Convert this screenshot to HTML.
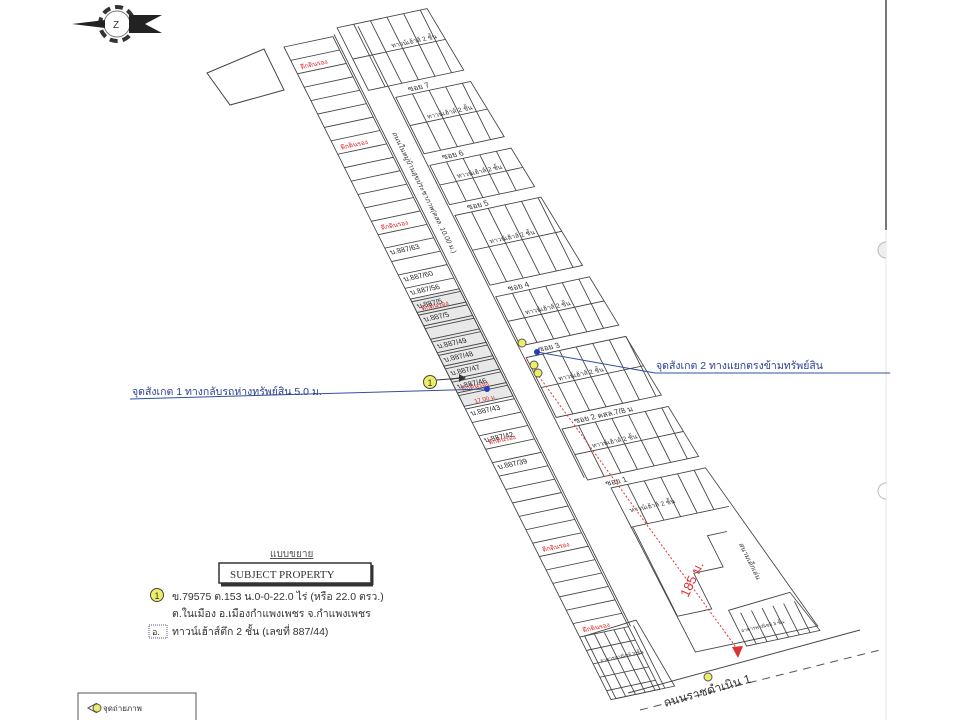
<!DOCTYPE html>
<html><head><meta charset="utf-8">
<style>
html,body{margin:0;padding:0;background:#fff;}
svg{display:block;font-family:"Liberation Sans","Noto Sans CJK SC",sans-serif;}
</style></head>
<body>
<svg id="s" width="960" height="720" viewBox="0 0 960 720" xmlns="http://www.w3.org/2000/svg">
<rect width="960" height="720" fill="#fff"/>
<!-- compass -->
<g transform="translate(117,24)">
<circle r="17" fill="none" stroke="#333" stroke-width="4" stroke-dasharray="8 5"/>
<circle r="13" fill="none" stroke="#777" stroke-width="1"/>
<polygon points="-45,0 -12,-4 -12,4" fill="#222"/>
<polygon points="12,-9 45,-9 28,0 45,9 12,9" fill="#222"/>
<text x="-4" y="4" font-size="10" fill="#333">Z</text>
</g>
<!-- right border -->
<line x1="886" y1="0" x2="886" y2="230" stroke="#777" stroke-width="2"/>
<line x1="886" y1="230" x2="886" y2="720" stroke="#e4e4e4" stroke-width="1"/>
<path d="M886,242 A8,8 0 0 0 886,258" fill="#eee" stroke="#bbb"/>
<path d="M886,483 A8,8 0 0 0 886,499" fill="#fff" stroke="#bbb"/>
<!-- top-left extra parcel -->
<polygon points="207,73 264,49 284,90 230,105" fill="none" stroke="#444" stroke-width="1"/>
<g id="map" transform="matrix(0.978,-0.208,0.448,0.894,284,47)" stroke="#444" stroke-width="0.9" fill="none"></g>
<!-- bottom road -->
<line x1="628" y1="693" x2="860" y2="630" stroke="#444" stroke-width="1"/>
<line x1="640" y1="710" x2="880" y2="650" stroke="#555" stroke-width="1" stroke-dasharray="8 6"/>
<text x="0" y="0" font-size="12" fill="#333" transform="translate(665,707) rotate(-16)">ถนนราชดำเนิน 1</text>
<circle cx="708" cy="677" r="4" fill="#ee6" stroke="#555"/>
<!-- red dashed 185m -->
<line x1="527" y1="360" x2="738" y2="650" stroke="#d33" stroke-width="1" stroke-dasharray="2 2"/>
<polygon points="738,658 732,647 743,646" fill="#d33"/>
<text font-size="13" fill="#d33" transform="translate(688,598) rotate(-65)">185 ม.</text>
<!-- blue annotation 1 -->
<line x1="130" y1="399" x2="487" y2="389" stroke="#3050a0" stroke-width="1"/>
<circle cx="487" cy="389" r="3" fill="#2040c0"/>
<text x="132" y="395" font-size="10.5" fill="#2a3f90">จุดสังเกต 1 ทางกลับรถห่างทรัพย์สิน 5.0 ม.</text>
<circle cx="430" cy="382" r="6.5" fill="#ee6" stroke="#444"/>
<text x="427.5" y="386" font-size="9" fill="#333">1</text>
<line x1="437" y1="380" x2="462" y2="378" stroke="#333"/>
<polygon points="466,378 459,374 459,382" fill="#333"/>
<!-- blue annotation 2 -->
<polyline points="537,352 655,373 890,373" fill="none" stroke="#3050a0" stroke-width="1"/>
<circle cx="537" cy="352" r="3" fill="#2040c0"/>
<text x="656" y="369" font-size="10.5" fill="#2a3f90">จุดสังเกต 2 ทางแยกตรงข้ามทรัพย์สิน</text>
<circle cx="522" cy="343" r="4" fill="#ee6" stroke="#555"/>
<circle cx="534" cy="365" r="4" fill="#ee6" stroke="#555"/>
<circle cx="538" cy="373" r="4" fill="#ee6" stroke="#555"/>
<!-- legend -->
<text x="270" y="557" font-size="10" fill="#555" text-decoration="underline">แบบขยาย</text>
<rect x="219" y="563" width="152" height="20" fill="#fff" stroke="#333" stroke-width="1.5"/>
<line x1="372" y1="565" x2="372" y2="585" stroke="#333" stroke-width="3"/>
<line x1="221" y1="585" x2="373" y2="585" stroke="#333" stroke-width="3"/>
<text x="230" y="578" font-size="11" font-family="Liberation Serif,serif" fill="#333">SUBJECT PROPERTY</text>
<circle cx="157" cy="595" r="6.5" fill="#ee6" stroke="#444"/>
<text x="154.5" y="599" font-size="9" fill="#333">1</text>
<text x="172" y="600" font-size="10.5" fill="#333">ข.79575 ต.153   น.0-0-22.0 ไร่ (หรือ 22.0 ตรว.)</text>
<text x="172" y="617" font-size="10.5" fill="#333">ต.ในเมือง  อ.เมืองกำแพงเพชร  จ.กำแพงเพชร</text>
<rect x="149" y="625" width="18" height="13" fill="none" stroke="#558" stroke-dasharray="1 1"/>
<text x="152" y="635" font-size="9" fill="#333">อ.</text>
<text x="172" y="635" font-size="10.5" fill="#333">ทาวน์เฮ้าส์ตึก 2 ชั้น (เลขที่ 887/44)</text>
<!-- photo legend box -->
<rect x="78" y="693" width="118" height="30" fill="none" stroke="#555"/>
<polyline points="97,703 88,708 97,713" fill="none" stroke="#444"/>
<circle cx="97" cy="708" r="4" fill="#ee6" stroke="#555"/>
<text x="103" y="711" font-size="8" fill="#333">จุดถ่ายภาพ</text>
</svg>
<script>
var g=document.getElementById('map');var NS='http://www.w3.org/2000/svg';
function el(t,a,txt){var e=document.createElementNS(NS,t);for(var k in a)e.setAttribute(k,a[k]);if(txt)e.textContent=txt;g.appendChild(e);return e;}
function L(x1,y1,x2,y2){el('line',{x1:x1,y1:y1,x2:x2,y2:y2});}
function P(pts){el('polygon',{points:pts});}
function T(x,y,s,c,sz,rot){var a={x:x,y:y,'font-size':sz||6,fill:c||'#333',stroke:'none'};if(rot)a.transform='rotate('+rot+' '+x+' '+y+')';el('text',a,s);}
for(var y=282;y<400;y+=15){el('rect',{x:0,y:y,width:50,height:15,fill:'#e8e8e8',stroke:'#444'});}
el('rect',{x:0,y:0,width:50,height:730});
for(var y=15;y<730;y+=15){L(0,y,50,y);}
var red=[26,116,206,296,386,446,566,656];
red.forEach(function(y){T(6,y,'ตึกดินรอง','#d22',6.5);});
var labs=[[236,'บ.887/63'],[266,'บ.887/60'],[281,'บ.887/56'],[296,'บ.887/5'],[311,'บ.887/5'],[341,'บ.887/49'],[356,'บ.887/48'],[371,'บ.887/47'],[386,'บ.887/46'],[416,'บ.887/43'],[446,'บ.887/42'],[476,'บ.887/39']];
labs.forEach(function(a){T(3,a[0]-3,a[1],'#222',7.5);});
T(12,401,'17.00 ม.','#d22',6);
L(52,-2,52,660);
L(78,-5,78,500);
T(60,110,'ถนนในหมู่บ้านสุขประชาภาพ(คสล. 10.00 ม.)','#333',7,90);
function xr(y){return 150+Math.max(0,y)/520*45;}
var blocks=[[-8,62,'ซอย 7',69],[75,138,'ซอย 6',145],[151,195,'ซอย 5',201],[207,285,'ซอย 4',292],[298,353,'ซอย 3',360],[366,433,'ซอย 2 คสล.7/8 ม',440],[446,503,'ซอย 1',510]];
blocks.forEach(function(b,i){
 var top=b[0],bot=b[1],xl=(i==0?58:80),r1=xr(top),r2=xr(bot);
 P(xl+','+top+' '+r1+','+top+' '+r2+','+bot+' '+xl+','+bot);
 var m=(top+bot)/2; L(xl,m,(r1+r2)/2,m);
 for(var x=xl+17;x<r2-4;x+=17){L(x,top,x,bot);}
 T(95,b[3]+3,b[2],'#333',8);
 T(100,m-3,'ทาวน์เฮ้าส์ 2 ชั้น','#333',6.5);
});
P('98,516 '+xr(516)+',516 225,700 100,700');
L(98,560,xr(560),560);
for(var x=115;x<xr(516)-4;x+=17)L(x,516,x,560);
T(105,545,'ทาวน์เฮ้าส์ 2 ชั้น','#333',6.5);
el('polyline',{points:'100,560 100,660 135,660 135,620 165,620 165,585 185,585'});
T(190,600,'สนามเด็กเล่น','#333',7,90);
P('150,665 215,660 225,705 150,705');
for(var x=160;x<222;x+=11)L(x,670,x,705);
T(152,690,'อาคารพาณิชย์ 3 ชั้น','#333',5);
P('5,660 60,655 65,730 5,730');
for(var x=15;x<62;x+=10)L(x,660,x,730);
T(8,690,'อาคารพาณิชย์ 3 ชั้น','#333',5);
</script>
</body></html>
